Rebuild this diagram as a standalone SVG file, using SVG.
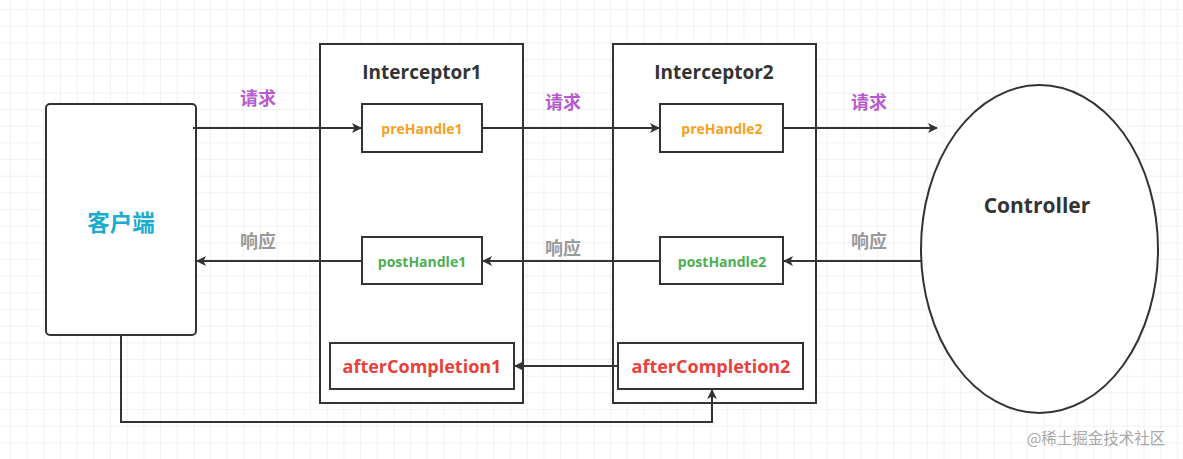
<svg xmlns="http://www.w3.org/2000/svg" width="1183" height="459" viewBox="0 0 1183 459">
<defs>
<pattern id="grid" x="10" y="9" width="16.67" height="16.67" patternUnits="userSpaceOnUse">
<path d="M0 0H16.67M0 0V16.67" fill="none" stroke="#e6e6e6" stroke-width="1"/>
</pattern>
<marker id="arr" markerWidth="10" markerHeight="10" refX="9" refY="5" orient="auto" markerUnits="userSpaceOnUse">
<path d="M0 0L10 5L0 10L2.5 5Z" fill="#333"/>
</marker>
</defs>
<style>
.box{fill:#fff;stroke:#333;stroke-width:2}
.line{fill:none;stroke:#333;stroke-width:2}
.t{font-family:"Open Sans","Noto Sans","Noto Sans CJK SC",sans-serif;font-weight:bold;text-anchor:middle;dominant-baseline:central}
.title{font-size:19px;fill:#333}
.pre{font-size:14px;fill:#f7a01c}
.post{font-size:14px;fill:#4caf50}
.after{font-size:18px;fill:#e8403a}
.req{font-family:"Noto Sans CJK SC",sans-serif;font-weight:bold;font-size:18px;fill:#b75ad1;text-anchor:middle;dominant-baseline:central}
.resp{font-family:"Noto Sans CJK SC",sans-serif;font-weight:bold;font-size:18px;fill:#9a9a9a;text-anchor:middle;dominant-baseline:central}
</style>
<rect width="1183" height="459" fill="#fff"/>
<rect width="1183" height="459" fill="url(#grid)"/>

<g id="client">
<rect class="box" x="46" y="104" width="150" height="231" rx="4"/>
<text class="t" x="121" y="221" style="font-family:'Noto Sans CJK SC',sans-serif;font-size:22.5px;fill:#1aaccf">客户端</text>
</g>

<g id="interceptor1">
<rect class="box" x="320" y="44" width="203" height="359"/>
<text class="t title" x="422" y="72">Interceptor1</text>
</g>
<g id="interceptor2">
<rect class="box" x="613" y="44" width="203" height="359"/>
<text class="t title" x="714" y="72">Interceptor2</text>
</g>

<g id="preHandle1">
<rect class="box" x="362" y="104" width="120" height="48"/>
<text class="t pre" x="422" y="128">preHandle1</text>
</g>
<g id="postHandle1">
<rect class="box" x="362" y="237" width="120" height="47"/>
<text class="t post" x="422" y="261">postHandle1</text>
</g>
<g id="afterCompletion1">
<rect class="box" x="330" y="343" width="184" height="46"/>
<text class="t after" x="422" y="366">afterCompletion1</text>
</g>
<g id="preHandle2">
<rect class="box" x="660" y="104" width="123" height="48"/>
<text class="t pre" x="722" y="128">preHandle2</text>
</g>
<g id="postHandle2">
<rect class="box" x="660" y="237" width="123" height="47"/>
<text class="t post" x="722" y="261">postHandle2</text>
</g>
<g id="afterCompletion2">
<rect class="box" x="618" y="343" width="185" height="46"/>
<text class="t after" x="711" y="366">afterCompletion2</text>
</g>

<g id="controller">
<ellipse class="box" cx="1039.5" cy="249" rx="118.5" ry="164"/>
<text class="t" x="1037" y="205" style="font-size:21px;fill:#333">Controller</text>
</g>

<g id="connectors">
<path class="line" d="M193 128H361" marker-end="url(#arr)"/>
<path class="line" d="M482 128H659" marker-end="url(#arr)"/>
<path class="line" d="M783 128H937" marker-end="url(#arr)"/>
<path class="line" d="M921 261H784" marker-end="url(#arr)"/>
<path class="line" d="M660 261H483" marker-end="url(#arr)"/>
<path class="line" d="M362 261H197" marker-end="url(#arr)"/>
<path class="line" d="M618 366H515" marker-end="url(#arr)"/>
<path class="line" d="M121 335V422H712V390" marker-end="url(#arr)"/>
<text class="req" x="258" y="97">请求</text>
<text class="req" x="563" y="101">请求</text>
<text class="req" x="869" y="101">请求</text>
<text class="resp" x="258" y="240">响应</text>
<text class="resp" x="563" y="247">响应</text>
<text class="resp" x="869" y="240">响应</text>
</g>

<text x="1096" y="437" style="font-family:'Noto Sans CJK SC',sans-serif;font-size:15.5px;fill:#a8a8a8;text-anchor:middle;dominant-baseline:central">@稀土掘金技术社区</text>
</svg>
